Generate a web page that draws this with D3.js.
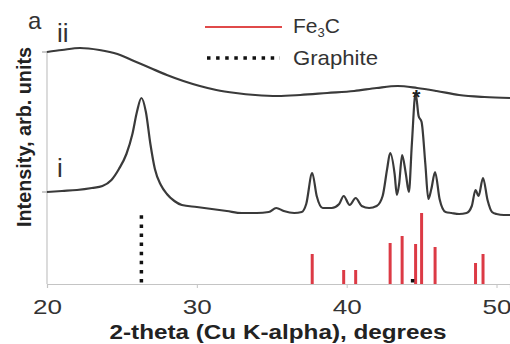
<!DOCTYPE html>
<html><head><meta charset="utf-8">
<script src="https://cdn.jsdelivr.net/npm/d3@7"></script>
<style>
html,body{margin:0;padding:0;background:#fff;}
svg{display:block;font-family:"Liberation Sans",Arial,Helvetica,sans-serif;}
</style></head>
<body><svg id="chart" width="510" height="344"></svg>
<script>
// ---- data ----
const xTicks = [20, 30, 40, 50];
// pattern i (deg, intensity arb.)
const patternI_x = [20.0,21.0,22.0,23.0,23.7,24.3,24.8,25.3,25.7,26.0,26.3,26.6,26.9,27.2,27.6,28.0,28.5,29.0,30.0,31.0,32.0,33.0,34.0,34.8,35.3,35.8,36.5,37.0,37.3,37.7,38.0,38.4,39.0,39.5,39.8,40.2,40.6,41.0,41.5,42.0,42.4,42.7,42.9,43.2,43.35,43.5,43.7,43.95,44.15,44.35,44.6,44.8,45.0,45.25,45.45,45.65,45.9,46.2,46.6,47.0,47.5,48.0,48.35,48.6,48.8,49.1,49.4,49.7,50.0,50.5,50.9];
const patternI_y = [92,93,94,96,98,104,115,130,150,172,186,172,140,115,99,90,83,79,77,75,73,71,71,72,76,73,71,72,80,111,88,76,76,80,88,79,86,78,76,78,88,115,131,110,89,100,129,110,92,140,191,168,162,120,85,95,112,85,72,71,70,71,78,94,88,106,84,72,70,69,69];
// pattern ii
const patternII_x = [20.0,21.0,22.2,23.5,24.7,25.8,26.9,28.0,29.1,30.2,31.3,32.6,33.9,35.4,36.9,38.7,40.5,42.0,43.4,44.7,46.0,47.5,49.2,50.9];
const patternII_y = [232,234,236,234,230,223,216,209,203,198,194,191,189,188,189,191,193,196,198,196,193,189,187,186];
// reference sticks
const fe3cPos = [37.7,39.8,40.6,42.9,43.7,44.6,45.0,45.9,48.6,49.1];
const fe3cInt = [30,14,14,41,48,40,71,37,21,30];
const graphitePos = [26.3, 44.4];
const graphiteInt = [73, 7];
const seriesLabels = ["i", "ii"];
const legendLabels = ["Fe", "Graphite"];

// ---- chart ----
const svg = d3.select("#chart");
const x = d3.scaleLinear().domain([20, 50.9]).range([47, 510]);
const y = d3.scaleLinear().domain([0, 244]).range([284, 40]);
const axisColor = "#c4c4c4", textColor = "#333";

// axes
const xAxis = svg.append("g").attr("transform", `translate(0,${y(0)})`)
  .call(d3.axisBottom(x).tickValues(xTicks).tickSize(4).tickFormat(d3.format("d")));
xAxis.select(".domain").attr("stroke", axisColor).attr("stroke-width", 1.2);
xAxis.selectAll(".tick line").attr("stroke", axisColor);
xAxis.selectAll(".tick text").attr("fill", textColor).attr("font-size", 21)
  .attr("font-family", "Liberation Sans, Arial, sans-serif").attr("dy", "1.1em")
  .attr("textLength", 29).attr("lengthAdjust", "spacingAndGlyphs");

svg.append("line").attr("x1", x(20)).attr("x2", x(20)).attr("y1", y(0)).attr("y2", y(233))
  .attr("stroke", axisColor).attr("stroke-width", 1.2);
// small y ticks at pattern baselines
[patternI_y[0], patternII_y[0]].forEach(v => {
  svg.append("line").attr("x1", x(20) - 5).attr("x2", x(20)).attr("y1", y(v)).attr("y2", y(v))
    .attr("stroke", "#999").attr("stroke-width", 1);
});

// reference sticks
svg.append("g").selectAll("line").data(fe3cPos).join("line")
  .attr("x1", d => x(d)).attr("x2", d => x(d))
  .attr("y1", y(0)).attr("y2", (d, i) => y(fe3cInt[i]))
  .attr("stroke", "#dc3a45").attr("stroke-width", 3);
svg.append("g").selectAll("line").data(graphitePos).join("line")
  .attr("x1", d => x(d)).attr("x2", d => x(d))
  .attr("y1", y(0) - 1.5).attr("y2", (d, i) => y(graphiteInt[i]))
  .attr("stroke", "#111").attr("stroke-width", 3.5)
  .attr("stroke-dasharray", "3.5,5.6");

// patterns
const line = d3.line().x(d => x(d[0])).y(d => y(d[1])).curve(d3.curveMonotoneX);
const dataI = patternI_x.map((v, i) => [v, patternI_y[i]]);
const dataII = patternII_x.map((v, i) => [v, patternII_y[i]]);
[dataI, dataII].forEach(d => {
  svg.append("path").datum(d).attr("d", line).attr("fill", "none")
    .attr("stroke", "#3a3a3a").attr("stroke-width", 2.2).attr("stroke-linejoin", "round");
});

// star above main peak
svg.append("text").attr("x", x(44.65)).attr("y", 104).attr("text-anchor", "middle")
  .attr("font-size", 21).attr("font-weight", "bold").attr("fill", "#222").text("*");

// series labels
svg.append("text").attr("x", x(20) + 10).attr("y", y(patternI_y[0]) - 15)
  .attr("font-size", 26).attr("fill", textColor).text(seriesLabels[0]);
svg.append("text").attr("x", x(20) + 10).attr("y", 42)
  .attr("font-size", 26).attr("fill", textColor).text(seriesLabels[1]);
// panel letter
svg.append("text").attr("x", 28).attr("y", 29)
  .attr("font-size", 24).attr("fill", textColor).text("a");

// legend
svg.append("line").attr("x1", 205).attr("x2", 282).attr("y1", 27).attr("y2", 27)
  .attr("stroke", "#e04a4a").attr("stroke-width", 2);
const fe = svg.append("text").attr("x", 293).attr("y", 33).attr("font-size", 21).attr("fill", textColor);
fe.append("tspan").text(legendLabels[0]);
fe.append("tspan").attr("font-size", 13).attr("dy", 4).text("3");
fe.append("tspan").attr("dy", -4).text("C");
svg.append("line").attr("x1", 207).attr("x2", 280).attr("y1", 58).attr("y2", 58)
  .attr("stroke", "#111").attr("stroke-width", 3.5).attr("stroke-dasharray", "3.5,5.6");
svg.append("text").attr("x", 293).attr("y", 65).attr("font-size", 21).attr("fill", textColor)
  .attr("textLength", 85).attr("lengthAdjust", "spacingAndGlyphs").text(legendLabels[1]);

// axis titles
svg.append("text").attr("x", 278).attr("y", 339).attr("text-anchor", "middle")
  .attr("font-size", 20).attr("font-weight", "bold").attr("fill", "#222")
  .attr("textLength", 337).attr("lengthAdjust", "spacingAndGlyphs")
  .text("2-theta (Cu K-alpha), degrees");
svg.append("text").attr("transform", "translate(31,137) rotate(-90)").attr("text-anchor", "middle")
  .attr("font-size", 20).attr("font-weight", "bold").attr("fill", "#222")
  .attr("textLength", 180).attr("lengthAdjust", "spacingAndGlyphs")
  .text("Intensity, arb. units");
</script></body></html>
